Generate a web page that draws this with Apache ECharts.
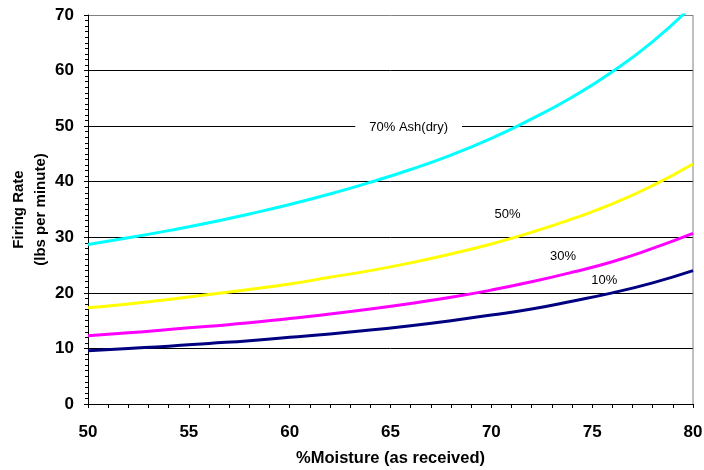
<!DOCTYPE html>
<html>
<head>
<meta charset="utf-8">
<script src="https://cdn.jsdelivr.net/npm/echarts@6/dist/echarts.min.js"></script>
<style>
html,body{margin:0;padding:0;background:#fff;}
#chart{width:704px;height:470px;}
</style>
</head>
<body>
<div id="chart"></div>
<script>
var moisture = [50, 52, 54, 56, 58, 60, 62, 64, 66, 68, 70, 72, 74, 76, 78, 80];
var ash70 = [28.7, 29.9, 31.2, 32.6, 34.2, 35.9, 37.8, 39.9, 42.2, 44.8, 47.8, 51.3, 55.2, 59.8, 65.2, 71.8];
var ash50 = [17.3, 18.0, 18.8, 19.7, 20.6, 21.6, 22.8, 24.0, 25.4, 27.0, 28.8, 30.9, 33.3, 36.0, 39.3, 43.2];
var ash30 = [12.3, 12.8, 13.4, 14.0, 14.6, 15.4, 16.2, 17.1, 18.1, 19.2, 20.5, 22.0, 23.7, 25.6, 28.0, 30.7];
var ash10 = [9.6, 10.0, 10.4, 10.9, 11.4, 12.0, 12.6, 13.3, 14.1, 15.0, 16.0, 17.1, 18.5, 20.0, 21.8, 24.0];
var seriesNames = ['70% Ash(dry)', '50%', '30%', '10%'];
var labelCoords = [[65.9, 49.7], [70.8, 34.2], [73.55, 26.6], [75.6, 22.3]];
var xTitle = '%Moisture (as received)';
var yTitle = 'Firing Rate\n(lbs per minute)';

var FONT = '"Liberation Sans", Arial, sans-serif';
function pairs(ys) { return moisture.map(function (m, i) { return [m, ys[i]]; }); }
var colors = ['#00FFFF', '#FFFF00', '#FF00FF', '#000080'];
var datas = [ash70, ash50, ash30, ash10];

var series = datas.map(function (d, i) {
  return {
    name: seriesNames[i],
    type: 'line',
    data: pairs(d),
    smooth: true,
    showSymbol: false,
    clip: true,
    lineStyle: { color: colors[i], width: 3 },
    itemStyle: { color: colors[i] },
    z: 5 - i,
    markPoint: {
      symbol: 'circle',
      symbolSize: 0,
      silent: true,
      data: [{
        coord: labelCoords[i],
        label: {
          show: true,
          position: 'inside',
          formatter: seriesNames[i],
          color: '#000',
          fontFamily: FONT,
          fontSize: 13,
          backgroundColor: i === 0 ? '#fff' : 'transparent',
          padding: i === 0 ? [2, 14, 2, 14] : 0
        }
      }]
    }
  };
});

var chart = echarts.init(document.getElementById('chart'), null, { renderer: 'canvas' });
chart.setOption({
  animation: false,
  backgroundColor: '#fff',
  grid: { left: 88, right: 11, top: 15, bottom: 66, containLabel: false, outerBoundsMode: 'none' },
  xAxis: {
    type: 'value',
    min: 50, max: 80, interval: 5,
    name: xTitle,
    nameLocation: 'middle',
    nameGap: 46,
    nameMoveOverlap: false,
    nameTextStyle: { fontFamily: FONT, fontSize: 16.5, fontWeight: 'bold', color: '#000' },
    axisLine: { show: true, onZero: false, lineStyle: { color: '#000', width: 1 } },
    axisTick: { show: true, inside: false, length: 4, lineStyle: { color: '#000' } },
    minorTick: { show: true, splitNumber: 5, length: 4, lineStyle: { color: '#000' } },
    axisLabel: { fontFamily: FONT, fontSize: 17, fontWeight: 'bold', color: '#000', margin: 20 },
    splitLine: { show: false }
  },
  yAxis: {
    type: 'value',
    min: 0, max: 70, interval: 10,
    name: yTitle,
    nameLocation: 'middle',
    nameGap: 36,
    nameMoveOverlap: false,
    nameTextStyle: { fontFamily: FONT, fontSize: 15, fontWeight: 'bold', color: '#000', lineHeight: 22 },
    axisLine: { show: true, onZero: false, lineStyle: { color: '#000', width: 1 } },
    axisTick: { show: true, inside: false, length: 4, lineStyle: { color: '#000' } },
    minorTick: { show: true, splitNumber: 10, length: 3, lineStyle: { color: '#000' } },
    axisLabel: { fontFamily: FONT, fontSize: 17, fontWeight: 'bold', color: '#000', margin: 14 },
    splitLine: { show: true, lineStyle: { color: ['#000', '#000', '#000', '#000', '#000', '#000', '#000', '#808080'], width: 1 } }
  },
  series: series.concat([{
    type: 'line',
    data: [[80, 0], [80, 70]],
    showSymbol: false,
    silent: true,
    lineStyle: { color: '#808080', width: 1 },
    z: 1
  }])
});
</script>
</body>
</html>
